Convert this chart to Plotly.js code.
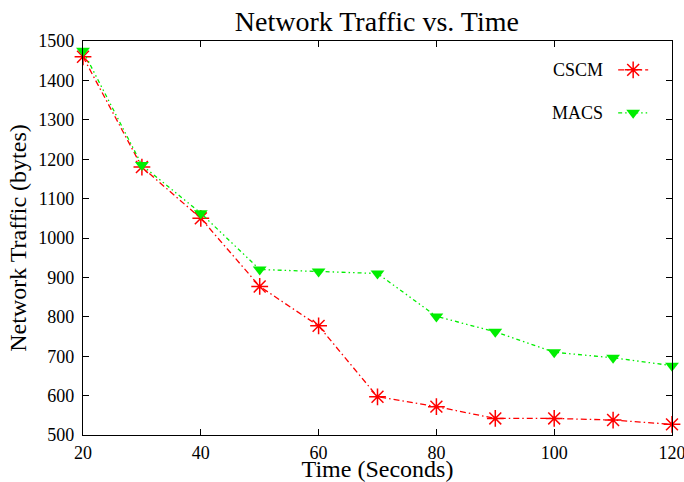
<!DOCTYPE html>
<html>
<head>
<meta charset="utf-8">
<script src="https://cdn.plot.ly/plotly-3.0.1.min.js"></script>
<style>
  html, body { margin: 0; padding: 0; background: #fff; }
  #chart { width: 684px; height: 482px; }
</style>
</head>
<body>
<div id="chart"></div>
<script>
// Time samples (seconds)
const timeSeconds = [20, 30, 40, 50, 60, 70, 80, 90, 100, 110, 120];
// Network traffic (bytes) for each scheme
const cscmTraffic = [1460, 1180, 1050, 877, 777, 597, 572, 542, 542, 538, 527];
const macsTraffic = [1475, 1185, 1063, 920, 915, 910, 801, 762, 710, 696, 676];
const seriesNames = ['CSCM', 'MACS'];

const serif = 'Liberation Serif, Times New Roman, serif';

const traces = [
  {
    x: timeSeconds, y: cscmTraffic, name: ' ', legend: 'legend',
    type: 'scatter', mode: 'lines+markers', cliponaxis: false,
    line: { color: '#ff0000', width: 1.3, dash: '6px,3px,1.5px,3px' },
    marker: { symbol: 'asterisk-open', size: 14, color: '#ff0000', line: { color: '#ff0000', width: 1.5 } }
  },
  {
    x: timeSeconds, y: macsTraffic, name: ' ', legend: 'legend2',
    type: 'scatter', mode: 'lines+markers', cliponaxis: false,
    line: { color: '#00ee00', width: 1.3, dash: '4px,3px,1.5px,3px,1.5px,3px' },
    marker: { symbol: 'triangle-down', size: 12, color: '#00ee00' }
  }
];

const axisCommon = {
  showline: true, linecolor: '#000', linewidth: 1.2, mirror: 'allticks',
  ticks: 'inside', ticklen: 6, tickcolor: '#000', tickwidth: 1,
  showgrid: false, zeroline: false, ticklabeloverflow: 'allow',
  tickfont: { family: serif, size: 18, color: '#000' }
};

const layout = {
  width: 684, height: 482,
  margin: { l: 83, r: 12, t: 41, b: 47 },
  paper_bgcolor: '#fff', plot_bgcolor: '#fff',
  title: {
    text: 'Network Traffic vs. Time',
    font: { family: serif, size: 28, color: '#000' },
    x: 0.551, xanchor: 'center', y: 0.955, yanchor: 'middle'
  },
  xaxis: Object.assign({}, axisCommon, {
    range: [20, 120], tickvals: [20, 40, 60, 80, 100, 120],
    ticklabelstandoff: 1,
    title: { text: 'Time (Seconds)', font: { family: serif, size: 24, color: '#000' }, standoff: 8 }
  }),
  yaxis: Object.assign({}, axisCommon, {
    range: [500, 1500], dtick: 100, tick0: 500,
    ticklabelstandoff: 4,
    title: { text: 'Network Traffic (bytes)', font: { family: serif, size: 24, color: '#000' }, standoff: 4 }
  }),
  showlegend: true,
  legend: {
    x: 0.985, xanchor: 'right', y: 0.926, yanchor: 'middle',
    bgcolor: 'rgba(0,0,0,0)', font: { family: serif, size: 18 }
  },
  legend2: {
    x: 0.985, xanchor: 'right', y: 0.817, yanchor: 'middle',
    bgcolor: 'rgba(0,0,0,0)', font: { family: serif, size: 18 }
  },
  annotations: seriesNames.map((n, i) => ({
    text: n, xref: 'paper', yref: 'paper',
    x: 0.887, xanchor: 'right', y: [0.926, 0.817][i], yanchor: 'middle',
    showarrow: false, font: { family: serif, size: 18, color: '#000' }
  }))
};

Plotly.newPlot('chart', traces, layout, { displayModeBar: false, staticPlot: true });
</script>
</body>
</html>
